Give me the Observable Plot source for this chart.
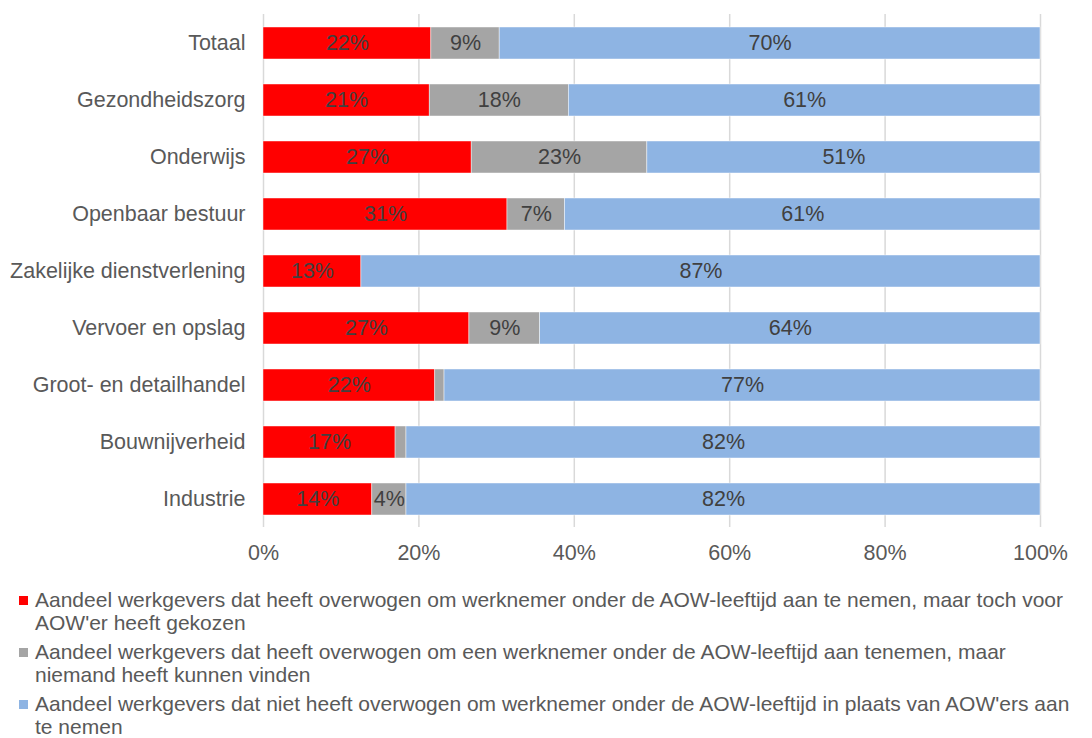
<!DOCTYPE html>
<html>
<head>
<meta charset="utf-8">
<script src="https://cdn.jsdelivr.net/npm/d3@7"></script>
<script src="https://cdn.jsdelivr.net/npm/@observablehq/plot@0.6"></script>
<style>
  html, body { margin: 0; padding: 0; background: #fff; }
  body { width: 1092px; height: 738px; overflow: hidden; font-family: "Liberation Sans", Arial, sans-serif; }
  #chart { height: 567px; }
  #legend { position: relative; margin-top: 22px; width: 1092px; }
  .item { position: relative; padding-left: 35px; width: 1056px; font-size: 21px; line-height: 22.5px; color: #595959; margin-bottom: 7px; }
  .sw { position: absolute; left: 19px; top: 7px; width: 9px; height: 9px; }
</style>
</head>
<body>
<div id="chart"></div>
<div id="legend"></div>
<script>
const categories = ["Totaal","Gezondheidszorg","Onderwijs","Openbaar bestuur","Zakelijke dienstverlening","Vervoer en opslag","Groot- en detailhandel","Bouwnijverheid","Industrie"];
const seriesNames = [
  "Aandeel werkgevers dat heeft overwogen om werknemer onder de AOW-leeftijd aan te nemen, maar toch voor AOW'er heeft gekozen",
  "Aandeel werkgevers dat heeft overwogen om een werknemer onder de AOW-leeftijd aan tenemen, maar niemand heeft kunnen vinden",
  "Aandeel werkgevers dat niet heeft overwogen om werknemer onder de AOW-leeftijd in plaats van AOW'ers aan te nemen"
];
const seriesColors = ["#FF0000", "#A5A5A5", "#8EB4E3"];
const consideredChoseAOW = [21.6, 21.4, 26.8, 31.4, 12.6, 26.5, 22.1, 17.0, 14.0];
const consideredNoneFound = [8.8, 17.9, 22.6, 7.4, 0, 9.1, 1.2, 1.4, 4.4];
const notConsidered = [69.6, 60.7, 50.6, 61.2, 87.4, 64.4, 76.7, 81.6, 81.6];
const xTicks = [0, 20, 40, 60, 80, 100];

const seriesValues = [consideredChoseAOW, consideredNoneFound, notConsidered];
const data = [];
categories.forEach((c, i) => {
  seriesValues.forEach((vals, s) => {
    data.push({category: c, series: seriesNames[s], value: vals[i]});
  });
});

const FS = 21.5;
const chart = Plot.plot({
  width: 1092,
  height: 567,
  marginLeft: 263,
  marginRight: 52,
  marginTop: 14,
  marginBottom: 40,
  style: {fontFamily: "'Liberation Sans', Arial, sans-serif", fontSize: FS + "px", color: "#595959", background: "#fff"},
  x: {domain: [0, 100], ticks: xTicks, tickFormat: d => d + "%"},
  y: {domain: categories, paddingInner: 0.44, paddingOuter: 0.21},
  color: {domain: seriesNames, range: seriesColors},
  marks: [
    Plot.gridX(xTicks, {stroke: "#d9d9d9", strokeOpacity: 1, strokeWidth: 1.5}),
    Plot.barX(data, {x: "value", y: "category", fill: "series", z: "series", order: seriesNames, stroke: "#ffffff", strokeOpacity: 0.6, strokeWidth: 0.75}),
    Plot.textX(data, Plot.stackX({x: "value", y: "category", z: "series", order: seriesNames,
      text: d => d.value >= 3 ? Math.round(d.value) + "%" : "", fill: "#404040", fontSize: FS})),
    Plot.axisX({ticks: xTicks, tickSize: 0, tickPadding: 17, tickFormat: d => d + "%", fontSize: FS, label: null}),
    Plot.axisY({tickSize: 0, tickPadding: 18, fontSize: FS, label: null})
  ]
});
document.getElementById("chart").appendChild(chart);

const legend = document.getElementById("legend");
seriesNames.forEach((name, i) => {
  const item = document.createElement("div");
  item.className = "item";
  const sw = document.createElement("span");
  sw.className = "sw";
  sw.style.background = seriesColors[i];
  item.appendChild(sw);
  item.appendChild(document.createTextNode(name));
  legend.appendChild(item);
});
</script>
</body>
</html>
